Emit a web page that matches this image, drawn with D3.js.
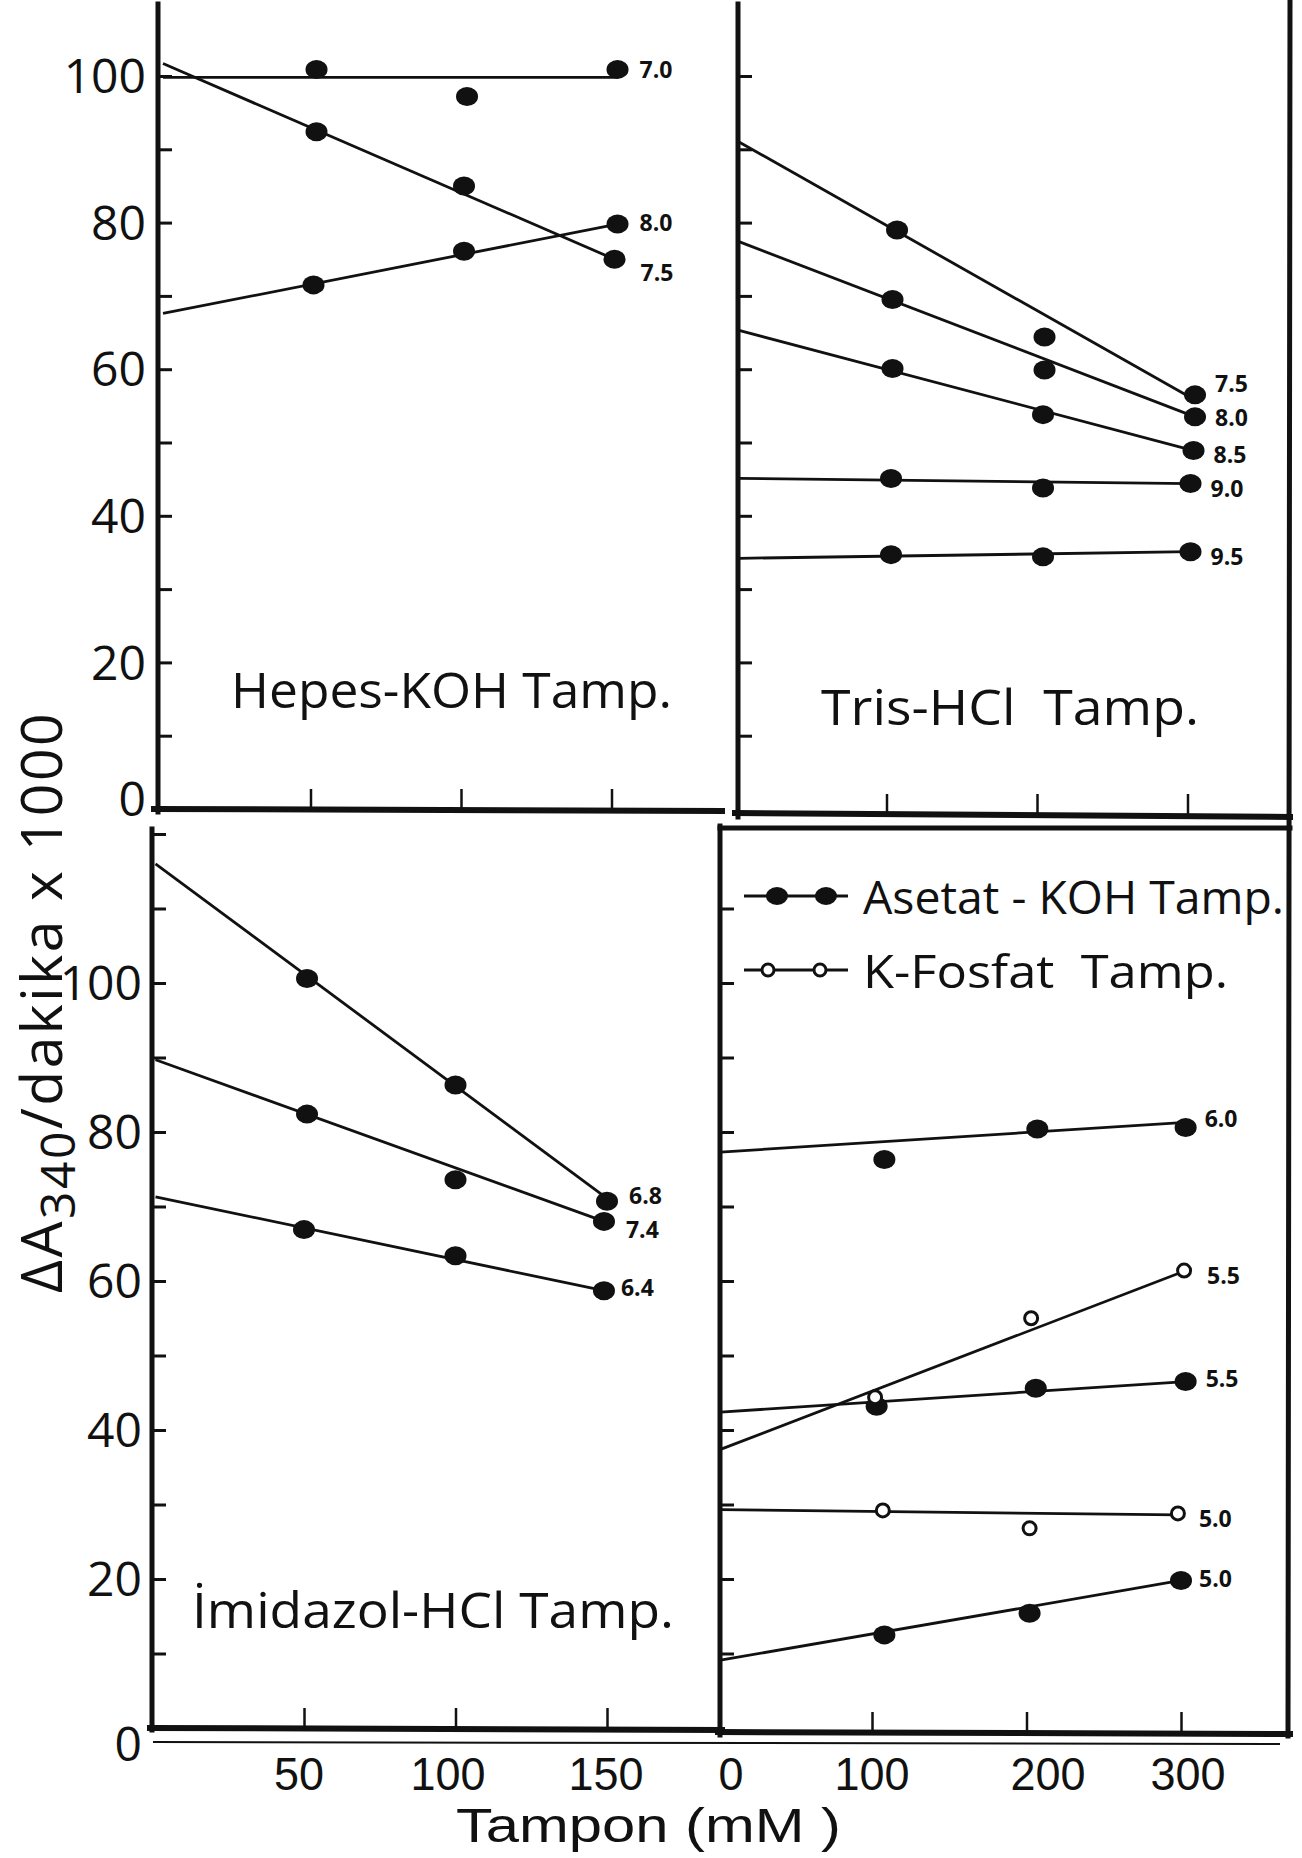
<!DOCTYPE html>
<html>
<head>
<meta charset="utf-8">
<script src="https://cdn.jsdelivr.net/npm/d3@7"></script>
<style>
  body { margin: 0; background: #fff; }
  svg { display: block; font-family: "Open Sans", "DejaVu Sans", sans-serif; }
</style>
</head>
<body>
<div id="chart-area"></div>
<script>

// Hepes-KOH (top left), x = buffer mM, y = dA340/min x 1000
var hepesPH = ["7.0", "7.5", "8.0"];
var hepesX = [[52, 102, 152], [52, 101, 151], [51, 101, 152]];
var hepesY = [[100.9, 97.2, 100.9], [92.4, 85.0, 75.0], [71.5, 76.1, 79.8]];
var hepesFit = [[99.8, 99.8], [101.7, 75.0], [67.6, 79.8]];

// Tris-HCl (top right)
var trisPH = ["7.5", "8.0", "8.5", "9.0", "9.5"];
var trisX = [[107, 205, 305], [104, 205, 305], [104, 204, 304], [103, 204, 302], [103, 204, 302]];
var trisY = [[79.0, 64.4, 56.5], [69.5, 59.9, 53.5], [60.1, 53.8, 48.9], [45.1, 43.8, 44.4], [34.7, 34.4, 35.1]];
var trisFit = [[91.0, 55.8], [77.4, 53.5], [65.3, 48.9], [45.1, 44.4], [34.2, 35.1]];

// Imidazol-HCl (bottom left)
var imidPH = ["6.8", "7.4", "6.4"];
var imidX = [[51, 100, 150], [51, 100, 149], [50, 100, 149]];
var imidY = [[100.6, 86.3, 70.7], [82.4, 73.6, 68.0], [66.9, 63.4, 58.7]];
var imidFit = [[116.0, 71.1], [89.7, 68.0], [71.3, 58.7]];

// Asetat-KOH (bottom right, filled)
var asetatPH = ["6.0", "5.5", "5.0"];
var asetatX = [[108, 207, 303], [103, 206, 303], [108, 202, 300]];
var asetatY = [[76.3, 80.4, 80.6], [43.2, 45.6, 46.5], [12.5, 15.4, 19.8]];
var asetatFit = [[77.3, 81.3], [42.4, 46.5], [9.1, 19.8]];

// K-Fosfat (bottom right, open)
var fosfatPH = ["5.5", "5.0"];
var fosfatX = [[102, 203, 302], [107, 202, 298]];
var fosfatY = [[44.4, 55.0, 61.4], [29.2, 26.8, 28.8]];
var fosfatFit = [[37.4, 61.3], [29.3, 28.6]];

var yTickLabels = [0, 20, 40, 60, 80, 100];
var xTicksLeft = [50, 100, 150];
var xTicksRight = [100, 200, 300];
var xLabelsBottom = ["50", "100", "150", "0", "100", "200", "300"];

// ---- layout ----
var svg = d3.select("#chart-area")
  .append("svg")
    .attr("width", 1302)
    .attr("height", 1858);

var ink = "#111";

var yTop = d3.scaleLinear().domain([0, 100]).range([809, 76]);
var yBot = d3.scaleLinear().domain([0, 100]).range([1728, 983]);

var panels = [
  { x: d3.scaleLinear().domain([0, 150]).range([160, 611.5]), y: yTop, xs: hepesX, ys: hepesY, fit: hepesFit, ph: hepesPH,
    open: false, lab: [[22, 0], [26, 13], [22, -1]] },
  { x: d3.scaleLinear().domain([0, 300]).range([736, 1187.5]), y: yTop, xs: trisX, ys: trisY, fit: trisFit, ph: trisPH,
    open: false, lab: [[20, -11], [20, 1], [20, 4], [20, 5], [20, 5]] },
  { x: d3.scaleLinear().domain([0, 150]).range([152.5, 607]), y: yBot, xs: imidX, ys: imidY, fit: imidFit, ph: imidPH,
    open: false, lab: [[22, -6], [22, 8], [17, -3]] },
  { x: d3.scaleLinear().domain([0, 300]).range([717.5, 1181]), y: yBot, xs: asetatX, ys: asetatY, fit: asetatFit, ph: asetatPH,
    open: false, lab: [[19, -9], [20, -3], [18, -2]] },
  { x: d3.scaleLinear().domain([0, 300]).range([717.5, 1181]), y: yBot, xs: fosfatX, ys: fosfatY, fit: fosfatFit, ph: fosfatPH,
    open: true, lab: [[23, 5], [21, 5]] }
];

// frame lines
var frame = [
  [158, 4, 158, 812, 5], [738, 4, 738, 817, 5],
  [154, 809, 722, 811, 6], [735, 813, 1290, 817, 6],
  [1290, 0, 1288, 1736, 5],
  [152, 829, 152, 1730, 5], [720, 826, 720, 1735, 5],
  [720, 828, 1290, 828, 5],
  [150, 1728, 722, 1730, 6], [718, 1732, 1290, 1734, 6],
  [154, 1742, 1279, 1744, 2]
];
svg.append("g").selectAll("line").data(frame).enter().append("line")
  .attr("x1", function(d) { return d[0]; })
  .attr("y1", function(d) { return d[1]; })
  .attr("x2", function(d) { return d[2]; })
  .attr("y2", function(d) { return d[3]; })
  .attr("stroke", ink)
  .attr("stroke-width", function(d) { return d[4]; })
  .attr("stroke-linecap", "square");

// inward ticks on the y axes
var yAxes = [
  [yTop, 160, d3.range(10, 101, 10)],
  [yTop, 740, d3.range(10, 101, 10)],
  [yBot, 154, d3.range(10, 121, 10)],
  [yBot, 722, d3.range(10, 111, 10)]
];
yAxes.forEach(function(a) {
  var g = svg.append("g").attr("transform", "translate(" + a[1] + ",0)")
    .call(d3.axisRight(a[0]).tickValues(a[2]).tickSize(12).tickFormat(""));
  g.select(".domain").remove();
  g.selectAll(".tick line").attr("stroke", ink).attr("stroke-width", 3);
});

// upward ticks on the x axes
var xAxes = [
  [panels[0].x, 809, xTicksLeft],
  [panels[1].x, 814, xTicksRight],
  [panels[2].x, 1728, xTicksLeft],
  [panels[3].x, 1732, xTicksRight]
];
xAxes.forEach(function(a) {
  var g = svg.append("g").attr("transform", "translate(0," + a[1] + ")")
    .call(d3.axisTop(a[0]).tickValues(a[2]).tickSize(20).tickFormat(""));
  g.select(".domain").remove();
  g.selectAll(".tick line").attr("stroke", ink).attr("stroke-width", 2.5);
});

// y tick labels
function yLabels(scale, right, zeroDy) {
  svg.append("g").selectAll("text").data(yTickLabels).enter().append("text")
    .attr("x", right)
    .attr("y", function(d) { return scale(d) + (d === 0 ? zeroDy : 0); })
    .attr("dy", "0.36em")
    .attr("text-anchor", "end")
    .attr("font-size", 48)
    .attr("fill", ink)
    .text(function(d) { return d; });
}
yLabels(yTop, 146, -10);
yLabels(yBot, 142, 16);

// x tick labels along the bottom
var xLabPos = [299, 448, 606, 731, 872, 1048, 1188];
svg.append("g").selectAll("text").data(xLabelsBottom).enter().append("text")
  .attr("x", function(d, i) { return xLabPos[i]; })
  .attr("y", 1790)
  .attr("text-anchor", "middle")
  .attr("font-family", "Liberation Sans, Arial, sans-serif")
  .attr("font-size", 46)
  .attr("textLength", function(d) { return d.length * 25; })
  .attr("lengthAdjust", "spacingAndGlyphs")
  .attr("fill", ink)
  .text(function(d) { return d; });

svg.append("text")
  .attr("x", 456).attr("y", 1842)
  .attr("font-family", "Liberation Sans, Arial, sans-serif")
  .attr("font-size", 48)
  .attr("textLength", 385)
  .attr("lengthAdjust", "spacingAndGlyphs")
  .attr("fill", ink)
  .text("Tampon (mM )");

// rotated y title
var yt = svg.append("text")
  .attr("transform", "translate(62,1293) rotate(-90)")
  .attr("font-size", 57)
  .attr("letter-spacing", 2.5)
  .attr("fill", ink);
yt.append("tspan").text("ΔA");
yt.append("tspan").attr("font-size", 48).attr("dy", 13).text("340");
yt.append("tspan").attr("dy", -13).text("/dakika x 1000");

// panel titles
var titles = [
  ["Hepes-KOH Tamp.", 231, 708, 441],
  ["Tris-HCl  Tamp.", 821, 725, 378],
  ["İmidazol-HCl Tamp.", 192, 1628, 482]
];
svg.append("g").selectAll("text").data(titles).enter().append("text")
  .attr("x", function(d) { return d[1]; })
  .attr("y", function(d) { return d[2]; })
  .attr("font-size", 50)
  .attr("textLength", function(d) { return d[3]; })
  .attr("lengthAdjust", "spacingAndGlyphs")
  .style("white-space", "pre")
  .attr("fill", ink)
  .text(function(d) { return d[0]; });

// series
panels.forEach(function(p) {
  var g = svg.append("g");
  p.ph.forEach(function(ph, i) {
    var xs = p.xs[i], ys = p.ys[i];
    var last = xs[xs.length - 1];
    g.append("line")
      .attr("x1", p.x(0) + 3).attr("y1", p.y(p.fit[i][0]))
      .attr("x2", p.x(last)).attr("y2", p.y(p.fit[i][1]))
      .attr("stroke", ink).attr("stroke-width", 2.8);

    var pts = xs.map(function(v, j) { return [v, ys[j]]; });
    if (p.open) {
      g.selectAll(null).data(pts).enter().append("circle")
        .attr("cx", function(d) { return p.x(d[0]); })
        .attr("cy", function(d) { return p.y(d[1]); })
        .attr("r", 6.5)
        .attr("fill", "#fff").attr("stroke", ink).attr("stroke-width", 3);
    } else {
      g.selectAll(null).data(pts).enter().append("ellipse")
        .attr("cx", function(d) { return p.x(d[0]); })
        .attr("cy", function(d) { return p.y(d[1]); })
        .attr("rx", 11).attr("ry", 9.5)
        .attr("fill", ink);
    }

    g.append("text")
      .attr("x", p.x(last) + p.lab[i][0])
      .attr("y", p.y(ys[ys.length - 1]) + p.lab[i][1])
      .attr("dy", "0.36em")
      .attr("font-size", 23)
      .attr("font-weight", "bold")
      .attr("fill", ink)
      .text(ph);
  });
});

// legend
var legend = svg.append("g");
legend.append("line").attr("x1", 744).attr("x2", 848).attr("y1", 896).attr("y2", 896)
  .attr("stroke", ink).attr("stroke-width", 2.8);
legend.selectAll(null).data([777, 826]).enter().append("ellipse")
  .attr("cx", function(d) { return d; }).attr("cy", 896)
  .attr("rx", 11).attr("ry", 9).attr("fill", ink);
legend.append("line").attr("x1", 744).attr("x2", 848).attr("y1", 970).attr("y2", 970)
  .attr("stroke", ink).attr("stroke-width", 2.8);
legend.selectAll(null).data([768, 820]).enter().append("circle")
  .attr("cx", function(d) { return d; }).attr("cy", 970)
  .attr("r", 6).attr("fill", "#fff").attr("stroke", ink).attr("stroke-width", 3);
legend.append("text").attr("x", 863).attr("y", 914)
  .attr("font-size", 46).attr("textLength", 421).attr("lengthAdjust", "spacingAndGlyphs")
  .attr("fill", ink).text("Asetat - KOH Tamp.");
legend.append("text").attr("x", 863).attr("y", 988)
  .attr("font-size", 46).attr("textLength", 365).attr("lengthAdjust", "spacingAndGlyphs")
  .style("white-space", "pre")
  .attr("fill", ink).text("K-Fosfat  Tamp.");

</script>
</body>
</html>
